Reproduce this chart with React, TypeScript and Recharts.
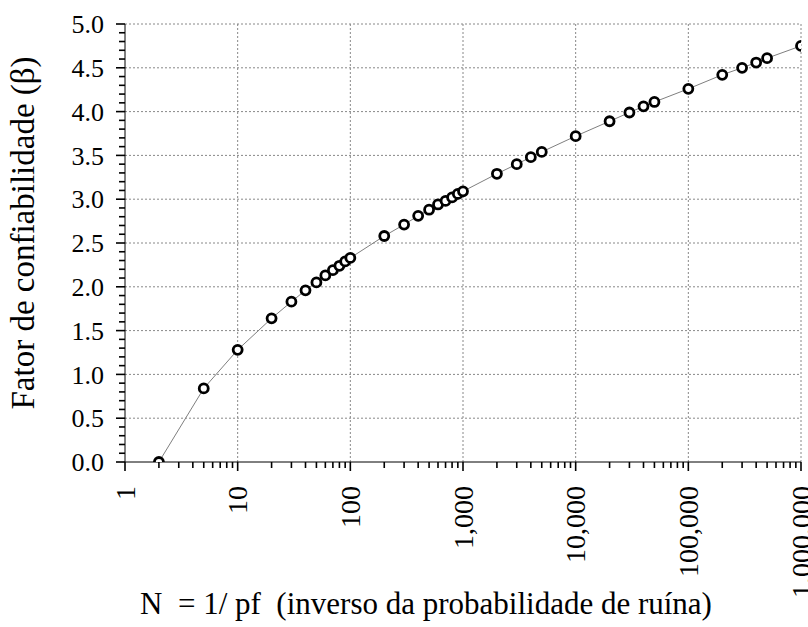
import { LineChart, Line, XAxis, YAxis, CartesianGrid } from "recharts";

// N = 1/pf and the matching reliability index beta
const nValues = [
  2, 5, 10, 20, 30, 40, 50, 60, 70, 80, 90, 100, 200, 300, 400, 500, 600, 700, 800, 900, 1000, 2000, 3000, 4000,
  5000, 10000, 20000, 30000, 40000, 50000, 100000, 200000, 300000, 400000, 500000, 1000000,
];
const betaValues = [
  0.0, 0.84, 1.28, 1.64, 1.83, 1.96, 2.05, 2.13, 2.19, 2.24, 2.29, 2.33, 2.58, 2.71, 2.81, 2.88, 2.94, 2.98, 3.02,
  3.06, 3.09, 3.29, 3.4, 3.48, 3.54, 3.72, 3.89, 3.99, 4.06, 4.11, 4.26, 4.42, 4.5, 4.56, 4.61, 4.75,
];

const xMajorTicks = [1, 10, 100, 1000, 10000, 100000, 1000000];
const xTickLabels = ["1", "10", "100", "1,000", "10,000", "100,000", "1,000,000"];
const yMajorTicks = [0, 0.5, 1, 1.5, 2, 2.5, 3, 3.5, 4, 4.5, 5];
const yTickLabels = ["0.0", "0.5", "1.0", "1.5", "2.0", "2.5", "3.0", "3.5", "4.0", "4.5", "5.0"];

const xMinorTicks: number[] = [];
for (let d = 1; d < 1000000; d *= 10) {
  for (let k = 2; k <= 9; k++) xMinorTicks.push(d * k);
}
const xAllTicks = [...xMajorTicks, ...xMinorTicks].sort((a, b) => a - b);

const yAllTicks: number[] = [];
for (let i = 0; i <= 50; i++) yAllTicks.push(i / 10);

const data = nValues.map((n, i) => ({ n, beta: betaValues[i] }));

const FONT = "'Liberation Serif', 'Times New Roman', serif";

function XTick({ x, y, payload }: any) {
  const idx = xMajorTicks.indexOf(payload.value);
  const major = idx >= 0;
  const ty = y + 24;
  return (
    <g>
      <line x1={x} x2={x} y1={y} y2={y + (major ? 9 : 6)} stroke="#000" strokeWidth={1.6} />
      {major && (
        <text
          x={x}
          y={ty}
          dy="0.35em"
          transform={`rotate(-90 ${x} ${ty})`}
          textAnchor="end"
          style={{ fontFamily: FONT, fontSize: 28, fill: "#000" }}
        >
          {xTickLabels[idx]}
        </text>
      )}
    </g>
  );
}

function YTick({ x, y, payload }: any) {
  const idx = yMajorTicks.findIndex((t) => Math.abs(t - payload.value) < 1e-6);
  const major = idx >= 0;
  return (
    <g>
      <line x1={x - (major ? 9 : 6)} x2={x} y1={y} y2={y} stroke="#000" strokeWidth={1.6} />
      {major && (
        <text x={x - 21} y={y} dy="0.35em" textAnchor="end" style={{ fontFamily: FONT, fontSize: 26, fill: "#000" }}>
          {yTickLabels[idx]}
        </text>
      )}
    </g>
  );
}

function XTitle() {
  return (
    <text x={426} y={614} textAnchor="middle" style={{ fontFamily: FONT, fontSize: 31, fill: "#000", whiteSpace: "pre" }}>
      {"N  = 1/ pf  (inverso da probabilidade de ruína)"}
    </text>
  );
}

function YTitle() {
  return (
    <text
      x={34}
      y={233}
      transform="rotate(-90 34 233)"
      textAnchor="middle"
      style={{ fontFamily: FONT, fontSize: 33, fill: "#000" }}
    >
      Fator de confiabilidade (β)
    </text>
  );
}

export default function App() {
  return (
    <div style={{ position: "absolute", left: 0, top: 0, background: "#fff" }}>
      <LineChart width={808} height={627} data={data} margin={{ top: 24, right: 7, bottom: 0, left: 0 }}>
        <CartesianGrid
          stroke="#888"
          strokeDasharray="2 2"
          horizontalValues={yMajorTicks.slice(1)}
          verticalValues={xMajorTicks.slice(1)}
        />
        <XAxis
          dataKey="n"
          type="number"
          scale="log"
          domain={[1, 1000000]}
          ticks={xAllTicks}
          interval={0}
          tickSize={0}
          tickMargin={0}
          tickLine={false}
          tick={<XTick />}
          height={165}
          stroke="#000"
          label={<XTitle />}
          allowDataOverflow
        />
        <YAxis
          type="number"
          domain={[0, 5]}
          ticks={yAllTicks}
          interval={0}
          tickSize={0}
          tickMargin={0}
          tickLine={false}
          tick={<YTick />}
          width={125}
          stroke="#000"
          label={<YTitle />}
          allowDataOverflow
        />
        <Line
          dataKey="beta"
          type="linear"
          stroke="#7f7f7f"
          strokeWidth={1}
          dot={{ r: 4.5, stroke: "#000", strokeWidth: 2.8, fill: "#fff" }}
          activeDot={false}
          isAnimationActive={false}
        />
      </LineChart>
    </div>
  );
}
